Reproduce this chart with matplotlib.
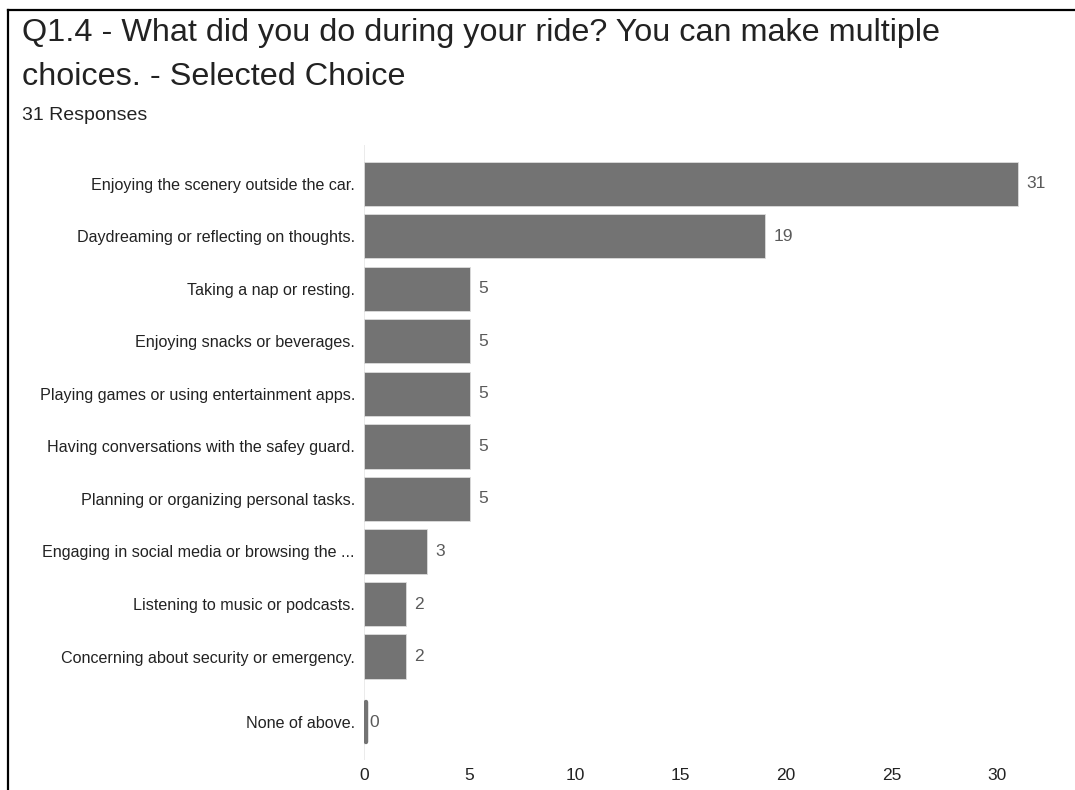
import numpy as np
import matplotlib
matplotlib.use("Agg")
import matplotlib.pyplot as plt
from matplotlib.lines import Line2D

# Survey data
categories = [
    "Enjoying the scenery outside the car.",
    "Daydreaming or reflecting on thoughts.",
    "Taking a nap or resting.",
    "Enjoying snacks or beverages.",
    "Playing games or using entertainment apps.",
    "Having conversations with the safey guard.",
    "Planning or organizing personal tasks.",
    "Engaging in social media or browsing the ...",
    "Listening to music or podcasts.",
    "Concerning about security or emergency.",
    "None of above.",
]
counts = [31, 19, 5, 5, 5, 5, 5, 3, 2, 2, 0]
x_ticks = [0, 5, 10, 15, 20, 25, 30]

title_lines = ["Q1.4 - What did you do during your ride? You can make multiple",
               "choices. - Selected Choice"]
subtitle_text = "31 Responses"

BAR_COLOR = "#737373"
LABEL_FONT = ["Liberation Sans", "DejaVu Sans"]
NUM_FONT = ["Liberation Sans Narrow", "Liberation Sans", "DejaVu Sans"]

W, H = 1075, 790
fig = plt.figure(figsize=(W / 100, H / 100), dpi=100)
fig.patch.set_facecolor("white")

ax_left, ax_top, ax_bottom = 364, 145, 760
xmax = 33.2
px_per_unit = (997 - 364) / 30.0
ax_right = ax_left + xmax * px_per_unit
ax = fig.add_axes([ax_left / W, 1 - ax_bottom / H,
                   (ax_right - ax_left) / W, (ax_bottom - ax_top) / H])

n = len(categories)
ypos = np.arange(n, dtype=float)
ypos[-1] += 0.25

ax.barh(ypos, counts, height=0.84, color=BAR_COLOR,
        edgecolor="#dcdcdc", linewidth=0.6, zorder=2)
# zero-valued rows get a thin marker along the baseline
for i, v in enumerate(counts):
    if v == 0:
        ax.plot([0.08, 0.08], [ypos[i] - 0.38, ypos[i] + 0.38], color=BAR_COLOR,
                linewidth=3.2, solid_capstyle="round", zorder=3)

for y, v in zip(ypos, counts):
    ax.annotate(str(v), xy=(v, y), xytext=(6 if v > 0 else 4, 0),
                textcoords="offset points", va="center", ha="left",
                fontsize=12.5, color="#5a5a5a", family=NUM_FONT)

ax.set_xlim(0, xmax)
ax.set_ylim(ypos[-1] + 0.72, -0.74)
ax.set_yticks(ypos)
ax.set_yticklabels(categories, fontsize=11.6, color="#222222", family=LABEL_FONT)
ax.set_xticks(x_ticks)
ax.set_xticklabels([str(t) for t in x_ticks], fontsize=12.5, color="#222222",
                   family=NUM_FONT)
ax.tick_params(axis="both", length=0)
ax.tick_params(axis="y", pad=6.5)
ax.tick_params(axis="x", pad=6)
for s in ax.spines.values():
    s.set_visible(False)
ax.axvline(0, color="#e8e8e8", linewidth=1.2, zorder=1)

# Header text
fig.text(22 / W, 1 - 33 / H, title_lines[0], ha="left", va="center", fontsize=23.3,
         color="#222222", family=LABEL_FONT)
fig.text(22 / W, 1 - 77 / H, title_lines[1], ha="left", va="center", fontsize=23.3,
         color="#222222", family=LABEL_FONT)
fig.text(22 / W, 1 - 115 / H, subtitle_text, ha="left", va="center", fontsize=14,
         color="#222222", family=LABEL_FONT)

# Frame lines along the top and left edge
fig.add_artist(Line2D([8 / W, 1], [1 - 9.5 / H, 1 - 9.5 / H], color="black",
                      linewidth=1.6, transform=fig.transFigure))
fig.add_artist(Line2D([8 / W, 8 / W], [0, 1 - 9.5 / H], color="black",
                      linewidth=1.6, transform=fig.transFigure))

fig.savefig("out.png", dpi=100, facecolor="white")
